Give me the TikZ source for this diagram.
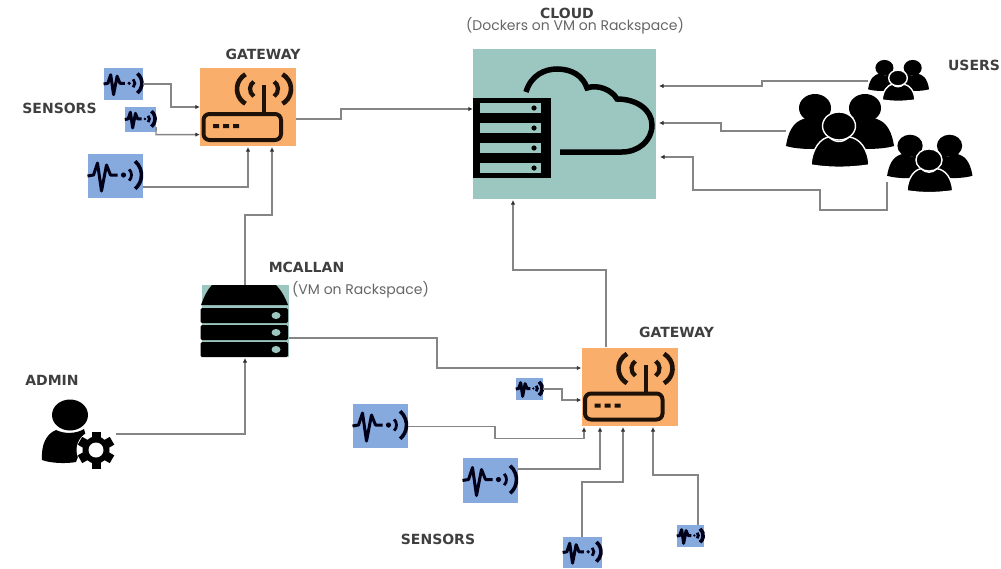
\documentclass[tikz,border=0pt]{standalone}
\usepackage{fontspec}
\setmainfont{Poppins}
\newfontfamily\headfont{DejaVu Sans}
\usetikzlibrary{arrows.meta}
\definecolor{orangebox}{HTML}{F9AE6C}
\definecolor{tealbox}{HTML}{9CC7C0}
\definecolor{bluebox}{HTML}{86A9DE}
\definecolor{linegray}{HTML}{858585}
\definecolor{txtgray}{HTML}{3F3F3F}
\definecolor{icondark}{HTML}{1E1208}
\tikzset{
  x=1pt,y=-1pt,
  conn/.style={draw=linegray,line width=1.3pt,-{Latex[length=4.5pt,width=4.5pt,color=black!80]}},
  head/.style={font=\headfont\bfseries\fontsize{14}{16}\selectfont,text=txtgray,inner sep=0pt},
  sub/.style={font=\fontsize{14}{16}\selectfont,text=black!60,inner sep=0pt},
  sensorbox/.style={fill=bluebox,draw=none,inner sep=0pt,minimum width=#1},
  gatewaybox/.style={fill=orangebox,draw=none,inner sep=0pt,minimum width=96pt,minimum height=78pt},
  sensor/.pic={
    \draw[black!90!blue,line width=3pt,line join=round]
      (-28,0)--(-22,-1)--(-18,-13)--(-14,15)--(-9,-11)--(-5,-1)--(2,-1);
    \fill[black!90!blue] (8,-1) circle (2.6);
    \draw[black!90!blue,line width=2.8pt] (8,-1) ++(-45:8) arc (-45:45:8);
    \draw[black!90!blue,line width=3.6pt] (8,-1) ++(-50:18) arc (-50:50:18);
  },
  router/.pic={
    \draw[icondark,line width=4pt,rounded corners=6pt] (-44.5,7) rectangle (33,33);
    \draw[icondark,line width=4pt] (16,6) -- (16,-22);
    \fill[icondark] (-35,17) rectangle (-29,21) (-25,17) rectangle (-19,21) (-15,17) rectangle (-9,21);
    \draw[icondark,line width=4.6pt] (6,-18) ++(120:17) arc (120:240:17);
    \draw[icondark,line width=4.6pt] (26,-18) ++(60:17) arc (60:-60:17);
    \draw[icondark,line width=4.2pt] (11,-18) ++(125:9) arc (125:235:9);
    \draw[icondark,line width=4.2pt] (21,-18) ++(55:9) arc (55:-55:9);
  },
  people/.pic={
    \fill[black] (-53,20) .. controls (-50,0) and (-42,-6) .. (-32,-8) .. controls (-25,-3) and (-20,-3) .. (-14,-8)
       .. controls (-6,-6) and (0,0) .. (2,20) .. controls (-15,24) and (-40,24) .. (-53,20) -- cycle;
    \fill[black] (55,20) .. controls (52,0) and (44,-6) .. (34,-8) .. controls (27,-3) and (22,-3) .. (16,-8)
       .. controls (8,-6) and (-2,0) .. (-4,20) .. controls (13,24) and (42,24) .. (55,20) -- cycle;
    \fill[black] (-24,-18) ellipse (16 and 14);
    \fill[black] (26,-18) ellipse (16 and 14);
    \fill[black,draw=white,line width=1.4pt] (-28,39) .. controls (-27,22) and (-18,12) .. (-10,11)
       .. controls (-4,17) and (4,17) .. (10,11) .. controls (20,12) and (29,22) .. (30,39)
       .. controls (10,42) and (-10,42) .. (-28,39) -- cycle;
    \fill[black,draw=white,line width=1.4pt] (0,0) ellipse (16.5 and 14);
  }
}
\begin{document}
\begin{tikzpicture}
\useasboundingbox (0,0) rectangle (1001,568);

% Boxes
\node[fill=tealbox,inner sep=0pt,minimum width=183pt,minimum height=150pt] (cloud) at (564.5,124) {};
\node[gatewaybox] (gw1) at (248,107) {};
\node[gatewaybox] (gw2) at (629.5,386.5) {};
\pic at (gw1.center) {router};
\pic at (gw2.center) {router};

% Cloud icon
\draw[black,line width=5.5pt,line cap=butt] (526,92) .. controls (531,75) and (545,69) .. (557,69)
  .. controls (572,69) and (583,76) .. (587,88) .. controls (598,84) and (612,90) .. (617,99)
  .. controls (637,99) and (652,110) .. (652,125) .. controls (652,141) and (638,152) .. (622,152) -- (560,152);
\fill[black] (473,98) rectangle (551,178);
\foreach \ya in {103,123,143,163}{
  \fill[tealbox] (480,\ya) rectangle (541,\ya+10);
  \fill[black] (534,\ya+5) circle (2.6);
}

% McAllan server
\node[fill=tealbox,inner sep=0pt,minimum width=87pt,minimum height=72pt] (mcallan) at (245.5,321) {};
\fill[black] (212,285) -- (276,285) .. controls (281,290) and (285,297) .. (288,305) -- (201,305) .. controls (204,297) and (207,290) .. (212,285) -- cycle;
\foreach \ya in {308,325,342}{
  \fill[black,rounded corners=1.5pt] (200.5,\ya) rectangle (288,\ya+15);
  \fill[tealbox] (276,\ya+7.5) ellipse (4.5 and 3.5);
}

% Sensors
\node[sensorbox=39pt,minimum height=32pt] (s1) at (123.5,84) {};
\node[sensorbox=31pt,minimum height=25pt] (s2) at (140.5,119.5) {};
\node[sensorbox=55pt,minimum height=44pt] (s3) at (115.5,176) {};
\node[sensorbox=27pt,minimum height=22pt] (s4) at (529.5,389) {};
\node[sensorbox=55pt,minimum height=44pt] (s5) at (380.5,426) {};
\node[sensorbox=55pt,minimum height=45pt] (s6) at (490.5,480.5) {};
\node[sensorbox=39pt,minimum height=31pt] (s7) at (582.5,552.5) {};
\node[sensorbox=27pt,minimum height=22pt] (s8) at (690.5,536) {};
\pic[scale=.71] at (s1.center) {sensor};
\pic[scale=.56] at (s2.center) {sensor};
\pic at (s3.center) {sensor};
\pic[scale=.49] at (s4.center) {sensor};
\pic at (s5.center) {sensor};
\pic at (s6.center) {sensor};
\pic[scale=.71] at (s7.center) {sensor};
\pic[scale=.49] at (s8.center) {sensor};

% People
\pic at (839,126) {people};
\pic[scale=.79] at (929,160) {people};
\pic[scale=.565] at (898,78) {people};
\coordinate (u1) at (868,81);
\coordinate (u2) at (786,131);
\coordinate (u3) at (887,182);

% Admin
\coordinate (admin) at (116,434);
\fill[black] (70,415) ellipse (18 and 15.5);
\fill[black] (42,460) .. controls (41,445) and (46,434) .. (56,430) .. controls (64,434) and (76,434) .. (84,429)
   -- (86,436) -- (76,462) .. controls (65,464) and (50,463) .. (42,460) -- cycle;
\fill[white] (96,450) circle (19.5);
\fill[black] (96,450) circle (13.5);
\foreach \a in {0,60,...,300}{
  \fill[black,rotate around={\a:(96,450)}] (91.5,431.5) rectangle (100.5,440);
}
\fill[white] (96,450) circle (7.5);

% Connectors
\draw[conn] (s1.east) -- (171,84) -- (171,107) -- (gw1.west |- 0,107);
\draw[conn] (s2.east |- 0,127) -- (156,134.6) -- (gw1.west |- 0,134.6);
\draw[conn] (s3.east |- 0,187) -- (248,187) -- (248,147);
\draw[conn] (mcallan.north -| 245,0) -- (245,215) -- (272,215) -- (272,147);
\draw[conn] (gw1.east |- 0,119) -- (341,119) -- (341,109) -- (cloud.west |- 0,109);
\draw[conn] (u1) -- (762,81) -- (762,86) -- (659,86);
\draw[conn] (u2) -- (721,131) -- (721,123) -- (659,123);
\draw[conn] (u3) -- (887,210) -- (820,210) -- (820,190) -- (693,190) -- (693,157) -- (660,157);
\draw[conn] (gw2.north -| 606,0) -- (606,270) -- (513,270) -- (513,200);
\draw[conn] (admin) -- (245,434) -- (245,358);
\draw[conn] (mcallan.east |- 0,338) -- (437,338) -- (437,368) -- (gw2.west |- 0,368);
\draw[conn] (s4.east) -- (562,389) -- (562,400) -- (gw2.west |- 0,400);
\draw[conn] (s5.east |- 0,426.6) -- (495,426.6) -- (495,438.6) -- (584,438.6) -- (584,427);
\draw[conn] (s6.east |- 0,469) -- (600,469) -- (600,427);
\draw[conn] (s7.north -| 582,0) -- (582,482) -- (623,482) -- (623,427);
\draw[conn] (s8.north -| 698,0) -- (698,475) -- (653,475) -- (653,427);

% Labels
\node[head] (l1) at (59.5,108) {SENSORS};
\node[head] (l2) at (263,54) {GATEWAY};
\node[head] (l3) at (567,13) {CLOUD};
\node[sub] (l4) at (575,26) {(Dockers on VM on Rackspace)};
\node[head] (l5) at (974,65) {USERS};
\node[head] (l6) at (306.5,267) {MCALLAN};
\node[sub] (l7) at (360.5,290) {(VM on Rackspace)};
\node[head] (l8) at (676.5,332) {GATEWAY};
\node[head] (l9) at (52,380) {ADMIN};
\node[head] (l10) at (438,539) {SENSORS};
\end{tikzpicture}
\end{document}
